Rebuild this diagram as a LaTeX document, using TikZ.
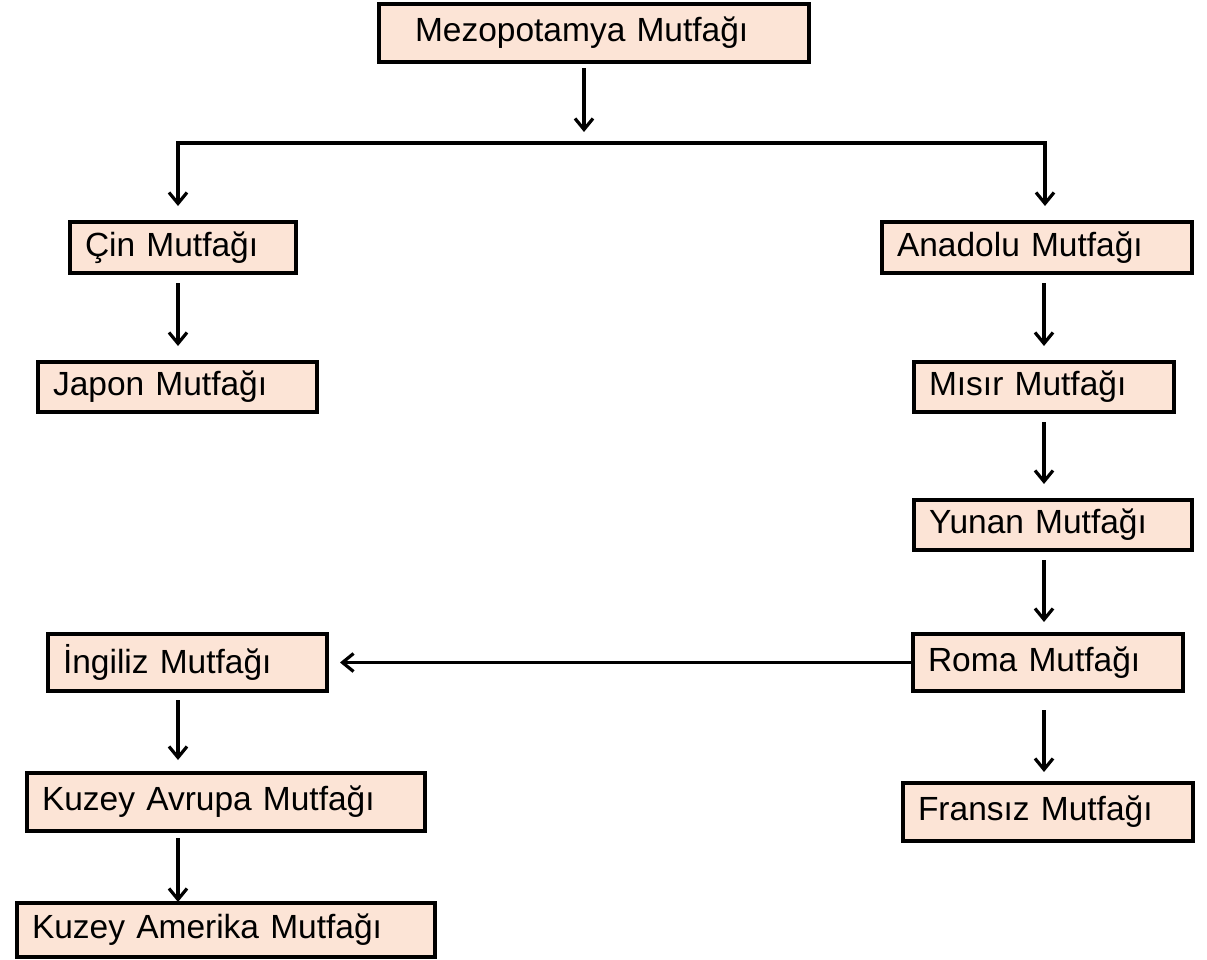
\documentclass[tikz,border=0pt]{standalone}
\usepackage{fontspec}
\setmainfont{Liberation Sans}
\usetikzlibrary{arrows.meta}
\definecolor{boxfill}{RGB}{252,228,214}
\tikzset{
  box/.style={draw=black, line width=3.2pt, fill=boxfill, anchor=north west, outer sep=0pt,
    inner xsep=15pt, inner ysep=0pt, align=left, font=\fontsize{33.5}{40}\selectfont},
  arr/.style={line width=3.2pt, -{Straight Barb[length=11pt,width=18pt,line width=3.2pt]}},
  ln/.style={line width=3.2pt}
}
\begin{document}
\begin{tikzpicture}[x=1pt,y=-1pt]
\useasboundingbox (0,0) rectangle (1207,959);
% boxes
\node[box, inner xsep=36pt, minimum width=430, minimum height=58, text width=430-72] (mezo) at (379,4) {Mezopotamya Mutfağı};
\node[box, minimum width=226, minimum height=51, text width=226-30] (cin) at (70,222) {Çin Mutfağı};
\node[box, minimum width=310, minimum height=51, text width=310-30] (anadolu) at (882,222) {Anadolu Mutfağı};
\node[box, minimum width=279, minimum height=50, text width=279-30] (japon) at (38,362) {Japon Mutfağı};
\node[box, minimum width=260, minimum height=50, text width=260-30] (misir) at (914,362) {Mısır Mutfağı};
\node[box, minimum width=278, minimum height=50, text width=278-30] (yunan) at (914,500) {Yunan Mutfağı};
\node[box, minimum width=270, minimum height=57, text width=270-30] (roma) at (913,634) {Roma Mutfağı};
\node[box, minimum width=279, minimum height=57, text width=279-30] (ingiliz) at (48,634) {İngiliz Mutfağı};
\node[box, minimum width=398, minimum height=58, text width=398-30] (kavrupa) at (27,773) {Kuzey Avrupa Mutfağı};
\node[box, minimum width=418, minimum height=54, text width=418-30] (kamerika) at (17,903) {Kuzey Amerika Mutfağı};
\node[box, minimum width=290, minimum height=58, text width=290-30] (fransiz) at (903,783) {Fransız Mutfağı};
% reference x positions
\coordinate (mx) at (584,0);
\coordinate (lx) at (178,0);
\coordinate (rx) at (1044,0);
\coordinate (barM) at (584,143);
\coordinate (barL) at (178,143);
\coordinate (barR) at (1045,143);
% connectors
\draw[arr, shorten <=6pt, shorten >=11pt] (mezo.south -| mx) -- (barM);
\draw[ln, line cap=rect] (barL) -- (barR);
\draw[arr, shorten >=16pt] (barL) -- (cin.north -| lx);
\draw[arr, shorten >=16pt] (barR) -- (anadolu.north -| barR);
\draw[arr, shorten <=10pt, shorten >=16pt] (cin.south -| lx) -- (japon.north -| lx);
\draw[arr, shorten <=10pt, shorten >=16pt] (anadolu.south -| rx) -- (misir.north -| rx);
\draw[arr, shorten <=10pt, shorten >=16pt] (misir.south -| rx) -- (yunan.north -| rx);
\draw[arr, shorten <=10pt, shorten >=12pt] (yunan.south -| rx) -- (roma.north -| rx);
\draw[arr, shorten >=13pt] (roma.west) -- (ingiliz.east);
\draw[arr, shorten <=19pt, shorten >=11pt] (roma.south -| rx) -- (fransiz.north -| rx);
\draw[arr, shorten <=9pt, shorten >=13pt] (ingiliz.south -| lx) -- (kavrupa.north -| lx);
\draw[arr, shorten <=7pt, shorten >=1pt] (kavrupa.south -| lx) -- (kamerika.north -| lx);
\end{tikzpicture}
\end{document}
